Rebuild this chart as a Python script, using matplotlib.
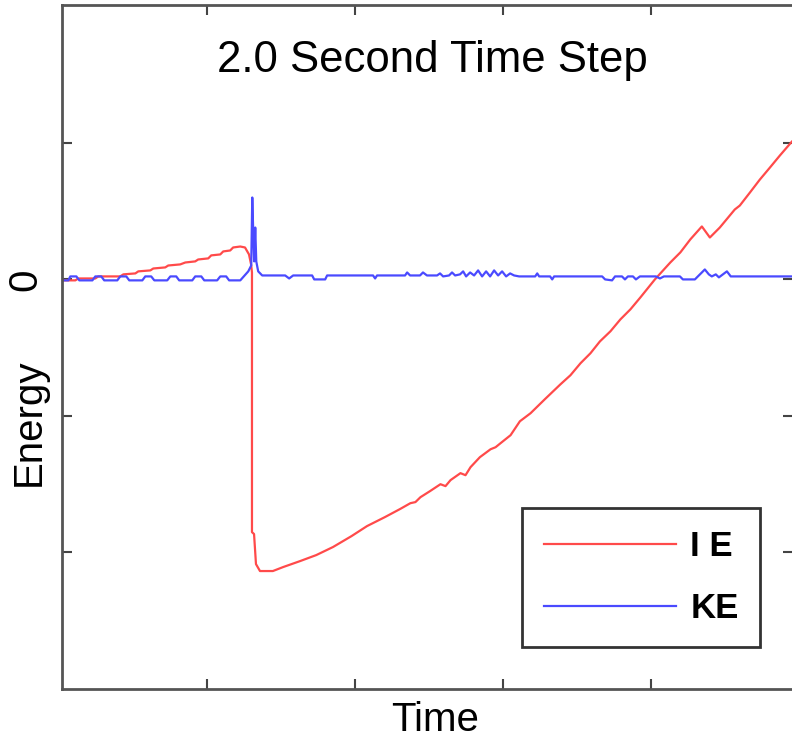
import matplotlib.pyplot as plt

plt.rcParams['font.family'] = ['Liberation Sans', 'DejaVu Sans']

# Internal energy (red)
ie_time = [3.1, 11.2, 13.2, 24.7, 26.7, 41.5, 43.6, 51.7, 53.7, 61.8, 63.8, 71.9, 73.9,
           82.0, 85.4, 92.1, 94.1, 100.9, 102.9, 109.0, 111.0, 115.7, 117.7, 122.5,
           125.7, 128.4, 129.8, 130.4, 130.4, 131.8, 133.1, 135.8, 144.5, 151.4,
           162.9, 173.8, 185.1, 197.6, 208.0, 220.1, 230.3, 237.3, 240.7, 244.1,
           250.5, 257.6, 261.0, 264.4, 271.1, 274.5, 277.9, 284.2, 291.4, 294.8,
           298.1, 304.9, 311.2, 318.4, 328.0, 338.6, 345.3, 352.1, 358.8, 365.2,
           372.3, 379.0, 385.8, 392.5, 402.3, 412.7, 419.5, 426.2, 434.0, 439.4,
           446.1, 456.2, 459.6, 466.4, 473.1, 479.9, 486.6, 494.7]
ie_energy = [-0.7, -0.7, 0.7, 0.7, 2.2, 2.2, 3.7, 4.4, 5.9, 6.6, 8.0, 8.8, 10.2,
             11.0, 12.4, 13.2, 14.6, 15.4, 17.6, 18.3, 20.5, 21.2, 23.4, 24.1,
             23.4, 18.3, 11.0, 5.1, -185.1, -186.5, -208.5, -213.6, -213.6, -210.7,
             -206.3, -201.9, -196.0, -188.0, -180.7, -174.1, -168.2, -163.9, -163.1,
             -159.5, -155.1, -150.0, -151.4, -147.0, -141.9, -143.4, -137.5, -130.2,
             -124.4, -122.9, -120.0, -114.1, -103.9, -98.0, -87.8, -76.8, -70.2,
             -61.4, -54.1, -45.4, -38.0, -29.3, -21.9, -13.2, 0.0, 12.4, 19.8, 29.3,
             38.8, 30.7, 38.0, 51.2, 54.1, 63.6, 73.1, 81.9, 90.7, 100.9]

# Kinetic energy (blue)
ke_time = [3.1, 6.5, 7.8, 11.9, 13.9, 22.7, 24.7, 28.7, 30.7, 39.5, 41.5, 45.6, 47.6,
           56.4, 58.4, 62.4, 64.5, 73.2, 75.3, 79.3, 81.3, 90.1, 92.1, 96.2, 98.2,
           106.9, 109.0, 113.0, 115.0, 122.5, 127.9, 129.9, 130.6, 131.2, 131.9,
           132.6, 133.3, 134.6, 137.3, 152.8, 155.5, 158.2, 171.0, 172.4, 179.8,
           181.1, 212.1, 213.5, 214.8, 233.7, 235.1, 237.1, 243.8, 245.8, 248.5,
           255.3, 257.3, 259.4, 263.4, 265.4, 267.5, 270.8, 272.9, 274.9, 277.6,
           280.3, 283.0, 285.7, 288.4, 291.1, 293.8, 296.5, 299.2, 301.9, 304.6,
           307.3, 310.7, 321.5, 322.9, 324.2, 331.6, 333.0, 334.3, 366.7, 368.7,
           373.4, 375.4, 380.1, 382.1, 384.1, 387.5, 389.5, 392.2, 403.0, 405.7,
           408.4, 419.2, 421.2, 429.3, 431.3, 434.0, 436.0, 438.7, 440.7, 443.4,
           445.5, 448.2, 450.9, 453.5, 494.7]
ke_energy = [-0.7, -0.7, 2.2, 2.2, -0.7, -0.7, 2.2, 2.2, -0.7, -0.7, 2.2, 2.2, -0.7,
             -0.7, 2.2, 2.2, -0.7, -0.7, 2.2, 2.2, -0.7, -0.7, 2.2, 2.2, -0.7,
             -0.7, 2.2, 2.2, -0.7, -0.7, 5.9, 10.2, 60.0, 36.6, 13.2,
             38.0, 13.2, 5.9, 2.9, 2.9, 0.7, 2.9, 2.9, 0.0, 0.0,
             2.9, 2.9, 0.7, 2.9, 2.9, 5.1, 2.9, 2.9, 5.1, 2.9,
             2.9, 4.4, 2.2, 2.9, 5.1, 2.9, 3.7, 5.9, 2.2, 5.1,
             2.9, 6.6, 2.2, 5.9, 2.2, 6.6, 2.9, 5.9, 2.2, 4.4,
             2.9, 2.2, 2.2, 4.4, 2.2, 2.2, 0.0, 2.2, 2.2, 0.0,
             -0.7, 2.2, 2.2, 0.0, 2.2, 2.2, 0.0, 2.2, 2.2, 0.7,
             2.2, 2.2, 0.0, 0.0, 2.2, 5.1, 7.3, 3.7, 2.2, 3.7,
             1.5, 3.7, 5.9, 2.2, 2.2]

x_ticks = [100, 200, 300, 400]
y_ticks = [-200, -100, 0, 100]
y_tick_labels = ['', '', '0', '']

fig = plt.figure(figsize=(7.92, 7.39), dpi=100)
ax = fig.add_axes([62 / 792, 50 / 739, 731 / 792, 684 / 739])

ax.plot(ie_time, ie_energy, color='#ff4a4a', lw=1.6, label='I E')
ax.plot(ke_time, ke_energy, color='#4a4aff', lw=1.6, label='KE')

ax.set_xlim(2.2, 495.5)
ax.set_ylim(-300, 201)

ax.set_xticks(x_ticks)
ax.set_xticklabels([])
ax.set_yticks(y_ticks)
ax.set_yticklabels(y_tick_labels, rotation=90, va='center', fontsize=29)
ax.tick_params(direction='in', length=7, width=1.5, color='#444444',
               top=True, right=True, pad=13)

for s in ax.spines.values():
    s.set_color('#555555')
    s.set_linewidth(2)

ax.set_ylabel('Energy', fontsize=29, va='center')
ax.yaxis.set_label_coords(-0.045, 0.39)
ax.set_xlabel('Time', fontsize=29, va='baseline')
ax.xaxis.set_label_coords(0.51, -0.062)

ax.text(0.507, 0.902, '2.0 Second Time Step', transform=ax.transAxes,
        ha='center', va='baseline', fontsize=31.5)

leg = ax.legend(loc='lower right', bbox_to_anchor=(0.955, 0.0614), borderaxespad=0,
                prop={'weight': 'bold', 'size': 25}, fancybox=False, framealpha=1,
                edgecolor='#333333', handlelength=3.8, handletextpad=0.42,
                labelspacing=0.85, borderpad=0.62)
leg.get_frame().set_linewidth(2)

fig.savefig('out.png', dpi=100)
